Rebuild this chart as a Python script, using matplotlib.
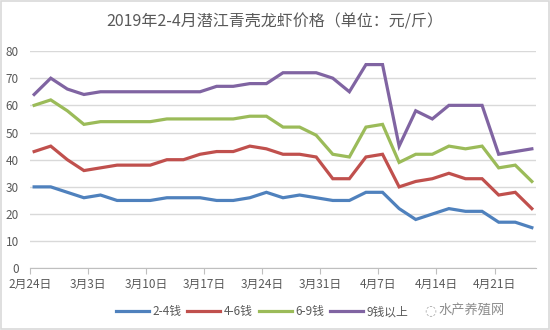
import matplotlib
matplotlib.use("Agg")
import matplotlib.pyplot as plt
import matplotlib.dates as mdates
import pandas as pd
from matplotlib.patches import Rectangle

plt.rcParams['font.family'] = ['Noto Sans CJK SC', 'DejaVu Sans']

title = "2019年2-4月潜江青壳龙虾价格（单位：元/斤）"
dates = ["2019-02-24", "2019-02-26", "2019-02-28", "2019-03-02", "2019-03-04",
         "2019-03-06", "2019-03-08", "2019-03-10", "2019-03-12", "2019-03-14",
         "2019-03-16", "2019-03-18", "2019-03-20", "2019-03-22", "2019-03-24",
         "2019-03-26", "2019-03-28", "2019-03-30", "2019-04-01", "2019-04-03",
         "2019-04-05", "2019-04-07", "2019-04-09", "2019-04-11", "2019-04-13",
         "2019-04-15", "2019-04-17", "2019-04-19", "2019-04-21", "2019-04-23",
         "2019-04-25"]
series_names = ["2-4钱", "4-6钱", "6-9钱", "9钱以上"]
s_2_4 = [30, 30, 28, 26, 27, 25, 25, 25, 26, 26, 26, 25, 25, 26, 28, 26,
         27, 26, 25, 25, 28, 28, 22, 18, 20, 22, 21, 21, 17, 17, 15]
s_4_6 = [43, 45, 40, 36, 37, 38, 38, 38, 40, 40, 42, 43, 43, 45, 44, 42,
         42, 41, 33, 33, 41, 42, 30, 32, 33, 35, 33, 33, 27, 28, 22]
s_6_9 = [60, 62, 58, 53, 54, 54, 54, 54, 55, 55, 55, 55, 55, 56, 56, 52,
         52, 49, 42, 41, 52, 53, 39, 42, 42, 45, 44, 45, 37, 38, 32]
s_9p = [64, 70, 66, 64, 65, 65, 65, 65, 65, 65, 65, 67, 67, 68, 68, 72,
        72, 72, 70, 65, 75, 75, 45, 58, 55, 60, 60, 60, 42, 43, 44]
tick_dates = ["2019-02-24", "2019-03-03", "2019-03-10", "2019-03-17", "2019-03-24",
              "2019-03-31", "2019-04-07", "2019-04-14", "2019-04-21"]
tick_labels = ["2月24日", "3月3日", "3月10日", "3月17日", "3月24日",
               "3月31日", "4月7日", "4月14日", "4月21日"]
y_ticks = [0, 10, 20, 30, 40, 50, 60, 70, 80]

colors = ["#4F81BD", "#C0504D", "#9BBB59", "#8064A2"]

start = pd.Timestamp(dates[0])
x = [(pd.Timestamp(d) - start).days + 0.5 for d in dates]
xt = [(pd.Timestamp(d) - start).days for d in tick_dates]
end = (pd.Timestamp(dates[-1]) - start).days + 1

fig = plt.figure(figsize=(5.5, 3.3), dpi=100)
fig.patch.set_facecolor("white")
fig.add_artist(Rectangle((0.001, 0.002), 0.997, 0.995, transform=fig.transFigure,
                         fill=False, edgecolor="#D9D9D9", linewidth=1.2))

ax = fig.add_axes([30 / 550, (330 - 268.4) / 330, 506 / 550, (268.4 - 51) / 330])
for vals, c, name in zip([s_2_4, s_4_6, s_6_9, s_9p], colors, series_names):
    ax.plot(x, vals, color=c, linewidth=2.3, label=name, solid_joinstyle="miter")

ax.set_xlim(0, end)
ax.set_ylim(0, 80)
ax.set_yticks(y_ticks)
ax.set_xticks(xt)
ax.set_xticklabels(tick_labels)
ax.grid(axis="y", color="#D9D9D9", linewidth=1)
ax.set_axisbelow(True)
for s in ["left", "right", "top"]:
    ax.spines[s].set_visible(False)
ax.spines["bottom"].set_color("#BFBFBF")
ax.tick_params(axis="y", length=0, labelsize=8.5, labelcolor="#595959", pad=8)
ax.tick_params(axis="x", length=4, color="#BFBFBF", labelsize=8.5,
               labelcolor="#595959", pad=3)
for lab in ax.get_xticklabels():
    lab.set_horizontalalignment("center")

fig.text(0.5, 1 - 22 / 330, title, ha="center", va="center", fontsize=11.5,
         color="#595959")

leg = fig.legend(loc="center", bbox_to_anchor=(262 / 550, 1 - 312 / 330), ncol=4,
                 frameon=False, fontsize=8.5, handlelength=2.8, handletextpad=0.3,
                 columnspacing=0.5)
for t in leg.get_texts():
    t.set_color("#595959")

fig.text(505 / 550, 1 - 310 / 330, "水产养殖网", ha="right", va="center",
         fontsize=9.5, color="#8C8C8C")
fig.text(430 / 550, 1 - 310 / 330, "◌", ha="center", va="center",
         fontsize=10, color="#A6A6A6", family=["DejaVu Sans"])

fig.savefig("out.png", dpi=100, facecolor="white")
